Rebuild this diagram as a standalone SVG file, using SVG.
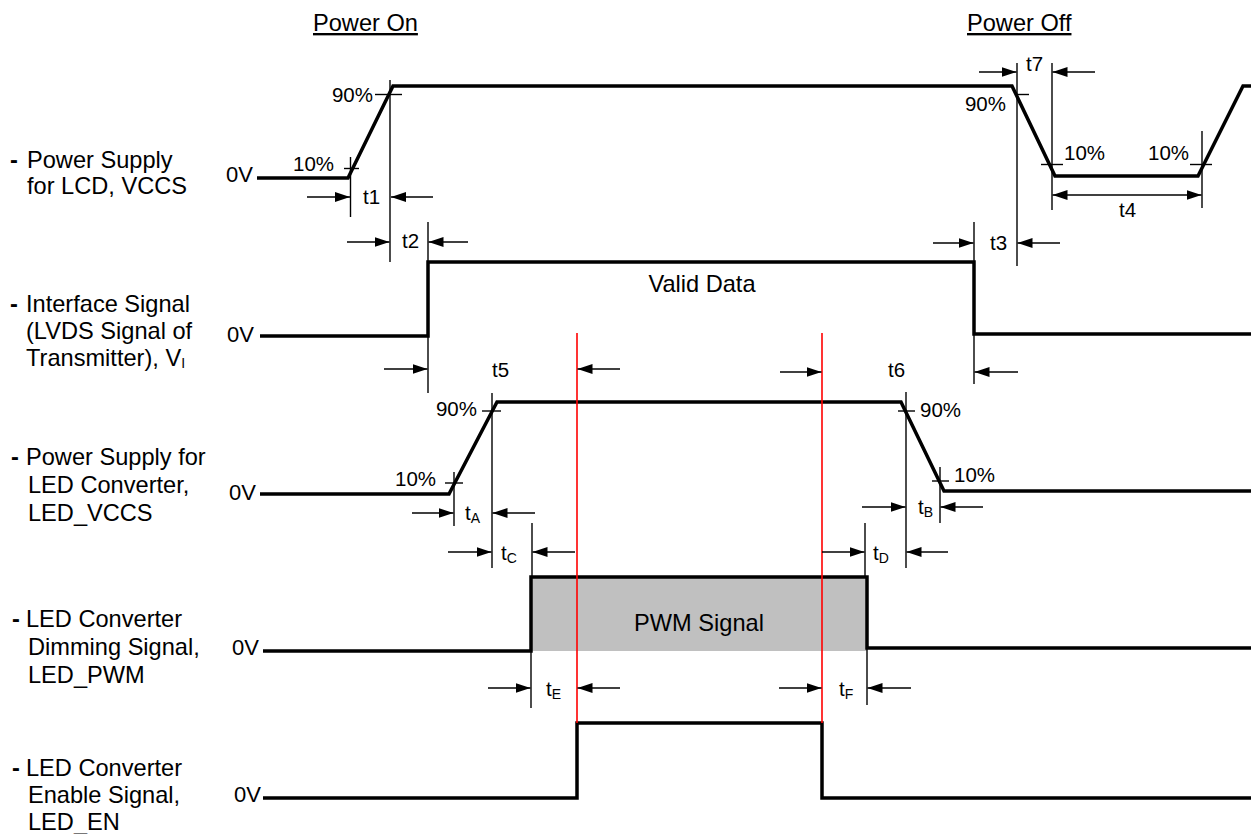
<svg xmlns="http://www.w3.org/2000/svg" width="1251" height="834" viewBox="0 0 1251 834">
<style>
text{font-family:"Liberation Sans",Arial,sans-serif;fill:#000}
.lbl{font-size:23.6px}
.dash{font-size:23.6px;font-weight:bold}
.ann{font-size:20.5px}
.zv{font-size:22px}
.sub{font-size:14px}
.sig{fill:none;stroke:#000;stroke-width:3.5;stroke-linejoin:miter}
.thin{fill:none;stroke:#000;stroke-width:1.4}
.arr{fill:none;stroke:#000;stroke-width:1.4;marker-end:url(#ah)}
.red{stroke:#ff0000;stroke-width:1.6;fill:none}
</style>
<defs>
<marker id="ah" markerUnits="userSpaceOnUse" markerWidth="16" markerHeight="11" refX="15" refY="5" orient="auto-start-reverse">
<path d="M0,0 L15,5 L0,10 z" fill="#000"/>
</marker>
</defs>
<rect width="1251" height="834" fill="#fff"/>

<g id="titles">
<text class="lbl" x="313" y="31" text-decoration="underline">Power On</text>
<text class="lbl" x="967" y="31" text-decoration="underline">Power Off</text>
</g>

<g id="labels">
<g id="label-vccs">
<text class="dash" x="10" y="168">-</text>
<text class="lbl" x="27" y="168">Power Supply</text>
<text class="lbl" x="27" y="194">for LCD, VCCS</text>
</g>
<g id="label-lvds">
<text class="dash" x="10" y="312">-</text>
<text class="lbl" x="26" y="312">Interface Signal</text>
<text class="lbl" x="26" y="339">(LVDS Signal of</text>
<text class="lbl" x="26" y="366">Transmitter), V<tspan class="sub" dy="2">I</tspan></text>
</g>
<g id="label-led-vccs">
<text class="dash" x="11" y="465">-</text>
<text class="lbl" x="26" y="465">Power Supply for</text>
<text class="lbl" x="28" y="493">LED Converter,</text>
<text class="lbl" x="28" y="521">LED_VCCS</text>
</g>
<g id="label-led-pwm">
<text class="dash" x="12" y="627">-</text>
<text class="lbl" x="26" y="627">LED Converter</text>
<text class="lbl" x="28" y="655">Dimming Signal,</text>
<text class="lbl" x="28" y="683">LED_PWM</text>
</g>
<g id="label-led-en">
<text class="dash" x="12" y="776">-</text>
<text class="lbl" x="26" y="776">LED Converter</text>
<text class="lbl" x="28" y="803">Enable Signal,</text>
<text class="lbl" x="28" y="830">LED_EN</text>
</g>
</g>

<g id="signal-vccs">
<text class="zv" x="226" y="182">0V</text>
<path class="sig" d="M257,178 L348,178 L393,86 L1012,86 L1055,176 L1198,176 L1243,86 L1251,86"/>
<text class="ann" x="293" y="171">10%</text>
<text class="ann" x="373" y="102" text-anchor="end">90%</text>
<text class="ann" x="1006" y="111" text-anchor="end">90%</text>
<text class="ann" x="1064" y="160">10%</text>
<text class="ann" x="1148" y="160">10%</text>
</g>

<g id="signal-lvds">
<text class="zv" x="227" y="342">0V</text>
<path class="sig" d="M260,336 L428,336 L428,262 L974,262 L974,334 L1251,334"/>
<text class="lbl" x="702" y="292" text-anchor="middle">Valid Data</text>
</g>

<g id="signal-led-vccs">
<text class="zv" x="229" y="500">0V</text>
<path class="sig" d="M260,494 L449,494 L497,402 L901,402 L944,491 L1251,491"/>
<text class="ann" x="395" y="486">10%</text>
<text class="ann" x="477" y="416" text-anchor="end">90%</text>
<text class="ann" x="920" y="417">90%</text>
<text class="ann" x="954" y="482">10%</text>
</g>

<g id="signal-led-pwm">
<text class="zv" x="232" y="655">0V</text>
<rect x="531" y="577" width="336" height="74" fill="#c0c0c0"/>
<path class="sig" d="M263,651 L531,651 L531,577 L867,577 L867,648 L1251,648"/>
<text class="lbl" x="699" y="631" text-anchor="middle">PWM Signal</text>
</g>

<g id="signal-led-en">
<text class="zv" x="234" y="802">0V</text>
<path class="sig" d="M263,798 L577,798 L577,723 L822,723 L822,798 L1251,798"/>
</g>

<g id="connectors">
<line class="red" x1="577" y1="333" x2="577" y2="723"/>
<line class="red" x1="822" y1="333" x2="822" y2="723"/>

<line class="thin" x1="350.5" y1="157" x2="350.5" y2="217"/>
<line class="thin" x1="344" y1="168.5" x2="359" y2="168.5"/>
<line class="thin" x1="390" y1="80" x2="390" y2="262"/>
<line class="thin" x1="375" y1="94.5" x2="402" y2="94.5"/>
<line class="thin" x1="428" y1="222" x2="428" y2="393"/>
<line class="thin" x1="974" y1="222" x2="974" y2="384"/>
<line class="thin" x1="1017" y1="63" x2="1017" y2="266"/>
<line class="thin" x1="1015" y1="94.5" x2="1029" y2="94.5"/>
<line class="thin" x1="1052" y1="63" x2="1052" y2="210"/>
<line class="thin" x1="1041" y1="164.5" x2="1063" y2="164.5"/>
<line class="thin" x1="1202" y1="131" x2="1202" y2="208"/>
<line class="thin" x1="1190" y1="164.5" x2="1212" y2="164.5"/>

<line class="arr" x1="307" y1="197" x2="350" y2="197"/>
<line class="arr" x1="433" y1="197" x2="391" y2="197"/>
<text class="ann" x="363" y="204">t1</text>
<line class="arr" x1="347" y1="242" x2="389.5" y2="242"/>
<line class="arr" x1="468" y1="242" x2="428.5" y2="242"/>
<text class="ann" x="402" y="248">t2</text>
<line class="arr" x1="933" y1="243" x2="973.5" y2="243"/>
<line class="arr" x1="1060" y1="243" x2="1017.5" y2="243"/>
<text class="ann" x="990" y="250">t3</text>
<line class="arr" x1="979" y1="72" x2="1016.5" y2="72"/>
<line class="arr" x1="1095" y1="72" x2="1052.5" y2="72"/>
<text class="ann" x="1026" y="71">t7</text>
<line class="thin" x1="1052.5" y1="195" x2="1201.5" y2="195" marker-start="url(#ah)" marker-end="url(#ah)"/>
<text class="ann" x="1119" y="217">t4</text>

<line class="arr" x1="384" y1="369" x2="427.5" y2="369"/>
<line class="arr" x1="620" y1="369" x2="577.5" y2="369"/>
<text class="ann" x="492" y="377">t5</text>
<line class="arr" x1="780" y1="372" x2="821.5" y2="372"/>
<line class="arr" x1="1018" y1="372" x2="974.5" y2="372"/>
<text class="ann" x="888" y="377">t6</text>

<line class="thin" x1="454" y1="472" x2="454" y2="526"/>
<line class="thin" x1="445" y1="483" x2="463" y2="483"/>
<line class="thin" x1="492" y1="393" x2="492" y2="568"/>
<line class="thin" x1="482" y1="411" x2="501" y2="411"/>
<line class="thin" x1="906" y1="392" x2="906" y2="568"/>
<line class="thin" x1="898" y1="411" x2="915" y2="411"/>
<line class="thin" x1="940" y1="467" x2="940" y2="523"/>
<line class="thin" x1="932" y1="481" x2="949" y2="481"/>
<line class="thin" x1="532" y1="523" x2="532" y2="577"/>
<line class="thin" x1="865" y1="523" x2="865" y2="577"/>

<line class="arr" x1="412" y1="513" x2="453.5" y2="513"/>
<line class="arr" x1="535" y1="513" x2="492.5" y2="513"/>
<text class="ann" x="465" y="520">t<tspan class="sub" dy="3">A</tspan></text>
<line class="arr" x1="862" y1="507" x2="905.5" y2="507"/>
<line class="arr" x1="983" y1="507" x2="940.5" y2="507"/>
<text class="ann" x="918" y="514">t<tspan class="sub" dy="3">B</tspan></text>
<line class="arr" x1="448" y1="552" x2="491.5" y2="552"/>
<line class="arr" x1="575" y1="552" x2="532.5" y2="552"/>
<text class="ann" x="501" y="560">t<tspan class="sub" dy="3">C</tspan></text>
<line class="arr" x1="822" y1="552" x2="864.5" y2="552"/>
<line class="arr" x1="948" y1="552" x2="906.5" y2="552"/>
<text class="ann" x="873" y="560">t<tspan class="sub" dy="3">D</tspan></text>

<line class="thin" x1="531" y1="651" x2="531" y2="708"/>
<line class="thin" x1="867" y1="648" x2="867" y2="705"/>
<line class="arr" x1="488" y1="688" x2="530.5" y2="688"/>
<line class="arr" x1="620" y1="688" x2="577.5" y2="688"/>
<text class="ann" x="546" y="696">t<tspan class="sub" dy="3">E</tspan></text>
<line class="arr" x1="779" y1="688" x2="821.5" y2="688"/>
<line class="arr" x1="911" y1="688" x2="867.5" y2="688"/>
<text class="ann" x="839" y="696">t<tspan class="sub" dy="3">F</tspan></text>
</g>
</svg>
